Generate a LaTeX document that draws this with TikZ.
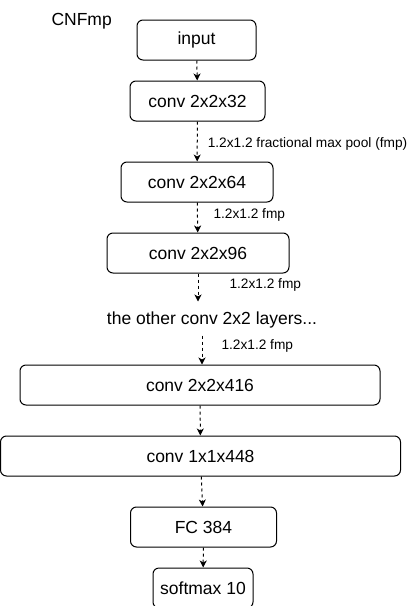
\documentclass[tikz,border=0pt]{standalone}
\usepackage{fontspec}
\setmainfont{Liberation Sans}
\usetikzlibrary{positioning,arrows.meta}

\begin{document}
\begin{tikzpicture}[x=1pt,y=-1pt,line width=1pt,
    layer/.style={draw,rounded corners=6pt,minimum height=40pt,inner sep=0pt,font=\fontsize{17.5}{21}\selectfont},
    caption/.style={inner sep=0pt,font=\fontsize{17.5}{21}\selectfont},
    fmp/.style={inner sep=0pt,anchor=west,font=\fontsize{13.7}{16}\selectfont},
    flow/.style={dash pattern=on 3pt off 3pt,-{Stealth[length=7pt,width=7pt,inset=2pt]}}]
  \useasboundingbox (0,0) rectangle (418,606);
  \node[caption,anchor=west] (title) at (51,21) {CNFmp};
  \node[layer,minimum width=119pt] (input) at (196.5,40) {input};
  \node[layer,minimum width=135pt,below=20pt of input,xshift=1pt] (conv32) {conv 2x2x32};
  \node[layer,minimum width=152pt,below=40pt of conv32,xshift=-0.5pt] (conv64) {conv 2x2x64};
  \node[layer,minimum width=182pt,below=30pt of conv64,xshift=1pt] (conv96) {conv 2x2x96};
  \coordinate (gap) at ([yshift=-28pt]conv96.south);
  \node[caption,minimum height=30pt] (others) at (212,320) {the other conv 2x2 layers...};
  \node[layer,minimum width=360pt] (conv416) at (200,385) {conv 2x2x416};
  \node[layer,minimum width=400pt,below=30pt of conv416,xshift=0.5pt] (conv448) {conv 1x1x448};
  \node[layer,minimum width=146pt,below=30pt of conv448,xshift=3pt] (fc) {FC 384};
  \node[layer,minimum width=100pt,below=20pt of fc,xshift=-0.5pt] (softmax) {softmax 10};

  \draw[flow] (input) -- (conv32);
  \draw[flow] (conv32) -- node[fmp,xshift=10pt,yshift=-2pt] (pool1) {1.2x1.2 fractional max pool (fmp)} (conv64);
  \draw[flow] (conv64) -- node[fmp,xshift=15.5pt,yshift=3pt] (pool2) {1.2x1.2 fmp} (conv96);
  \draw[flow] (conv96) -- node[fmp,xshift=31pt,yshift=3pt] (pool3) {1.2x1.2 fmp} (gap);
  \draw[flow] ([xshift=-10pt]others.south) -- node[fmp,xshift=19pt,yshift=4pt] (pool4) {1.2x1.2 fmp} ([xshift=2pt]conv416.north);
  \draw[flow] (conv416) -- (conv448);
  \draw[flow] (conv448) -- (fc);
  \draw[flow] (fc) -- (softmax);
\end{tikzpicture}
\end{document}
